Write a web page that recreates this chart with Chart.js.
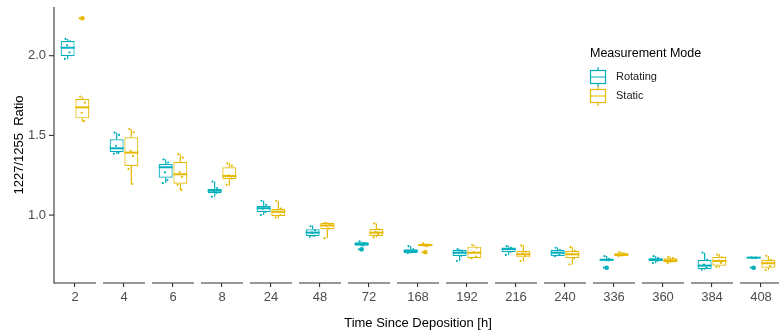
<!DOCTYPE html>
<html><head><meta charset="utf-8">
<script src="https://cdn.jsdelivr.net/npm/chart.js@4.4.1/dist/chart.umd.min.js"></script>
<style>
html,body{margin:0;padding:0;background:#fff;overflow:hidden;width:779px;height:331px}
#wrap{position:absolute;left:0;top:0;width:790px;height:331px}
</style>
</head><body><div id="wrap"><canvas id="c"></canvas></div>
<script>
// ---- data ----
const categories = ['2','4','6','8','24','48','72','168','192','216','240','336','360','384','408'];
const seriesNames = ['Rotating','Static'];
const legendTitle = 'Measurement Mode';
const xTitle = 'Time Since Deposition [h]';
const yTitle = '1227/1255  Ratio';
const yTickValues = [1.0, 1.5, 2.0];

// Rotating
const rotLo  = [1.977,1.385,1.201,1.115,1.000,0.865,0.805,0.760,0.712,0.750,0.742,0.710,0.698,0.655,0.730];
const rotQ1  = [1.998,1.394,1.235,1.137,1.018,0.869,0.808,0.762,0.743,0.767,0.743,0.714,0.712,0.660,0.731];
const rotMed = [2.050,1.419,1.300,1.153,1.043,0.890,0.819,0.775,0.764,0.787,0.764,0.720,0.720,0.683,0.733];
const rotQ3  = [2.092,1.476,1.321,1.164,1.059,0.911,0.829,0.785,0.781,0.796,0.781,0.725,0.729,0.718,0.735];
const rotHi  = [2.105,1.517,1.350,1.210,1.090,0.934,0.835,0.806,0.787,0.808,0.796,0.743,0.743,0.764,0.736];
const rotPts = [
  [2.105,2.090,2.065,2.020,1.980],
  [1.517,1.503,1.435,1.390,1.385],
  [1.350,1.330,1.268,1.220,1.200],
  [1.210,1.170,1.150,1.140,1.115],
  [1.090,1.065,1.040,1.020,1.000],
  [0.930,0.905,0.890,0.870,0.865],
  [0.835,0.825,0.815,0.810,0.785],
  [0.805,0.785,0.775,0.770,0.762],
  [0.787,0.775,0.765,0.745,0.712],
  [0.805,0.795,0.785,0.770,0.750],
  [0.795,0.780,0.765,0.750,0.742],
  [0.742,0.725,0.720,0.715,0.670],
  [0.742,0.730,0.720,0.713,0.700],
  [0.764,0.720,0.690,0.670,0.658],
  [0.735,0.733,0.732,0.730,0.670]
];
const rotOut = [[],[],[],[],[],[],[0.785],[],[],[],[],[0.670],[],[],[0.670]];

// Static
const staLo  = [1.586,1.195,1.158,1.184,0.980,0.855,0.859,0.802,0.729,0.712,0.690,0.741,0.698,0.672,0.655];
const staQ1  = [1.607,1.308,1.197,1.225,0.994,0.912,0.869,0.804,0.729,0.735,0.729,0.743,0.704,0.683,0.670];
const staMed = [1.676,1.392,1.256,1.245,1.021,0.935,0.890,0.812,0.764,0.754,0.754,0.752,0.716,0.712,0.698];
const staQ3  = [1.728,1.488,1.335,1.300,1.038,0.952,0.912,0.819,0.802,0.775,0.775,0.760,0.729,0.739,0.718];
const staHi  = [1.743,1.540,1.381,1.325,1.090,0.955,0.948,0.822,0.813,0.813,0.802,0.770,0.739,0.754,0.745];
const staPts = [
  [1.743,1.705,1.642,1.590,2.235],
  [1.540,1.519,1.402,1.371,1.289,1.195],
  [1.381,1.360,1.270,1.240,1.190,1.158],
  [1.325,1.310,1.250,1.230,1.190],
  [1.090,1.040,1.020,1.000,0.985],
  [0.952,0.945,0.930,0.915,0.855],
  [0.948,0.910,0.895,0.880,0.860],
  [0.822,0.815,0.810,0.805,0.767],
  [0.812,0.795,0.770,0.740,0.729],
  [0.810,0.770,0.760,0.745,0.712],
  [0.800,0.775,0.755,0.730,0.690],
  [0.768,0.760,0.752,0.748,0.743],
  [0.738,0.730,0.720,0.710,0.700],
  [0.752,0.735,0.715,0.700,0.675],
  [0.745,0.720,0.700,0.680,0.655]
];
const staOut = [[2.235],[],[],[],[],[],[],[0.767],[],[],[],[],[],[],[]];

// ---- styling ----
const colors = ['#00AFBB', '#E7B800'];
const jitterX = [-0.3, 0.35, -0.1, 0.25, -0.4, 0.15];
const FONT = '"Liberation Sans", Arial, sans-serif';
const AXIS = '#333333';

const stats = [
  {lo: rotLo, q1: rotQ1, med: rotMed, q3: rotQ3, hi: rotHi, pts: rotPts, out: rotOut},
  {lo: staLo, q1: staQ1, med: staMed, q3: staQ3, hi: staHi, pts: staPts, out: staOut}
];

const boxPlugin = {
  id: 'boxExtras',
  afterDatasetsDraw(chart) {
    const ctx = chart.ctx, ys = chart.scales.y;
    chart.data.datasets.forEach((ds, di) => {
      const meta = chart.getDatasetMeta(di);
      const st = stats[di];
      meta.data.forEach((bar, i) => {
        const x = bar.x, w = bar.width;
        ctx.save();
        ctx.strokeStyle = colors[di];
        ctx.fillStyle = colors[di];
        ctx.lineWidth = 1.2;
        ctx.beginPath();
        ctx.moveTo(x, ys.getPixelForValue(st.q3[i])); ctx.lineTo(x, ys.getPixelForValue(st.hi[i]));
        ctx.moveTo(x, ys.getPixelForValue(st.q1[i])); ctx.lineTo(x, ys.getPixelForValue(st.lo[i]));
        ctx.stroke();
        ctx.lineWidth = 2;
        const ym = ys.getPixelForValue(st.med[i]);
        ctx.beginPath(); ctx.moveTo(x - w / 2, ym); ctx.lineTo(x + w / 2, ym); ctx.stroke();
        st.pts[i].forEach((v, k) => {
          ctx.beginPath();
          ctx.arc(x + jitterX[k % jitterX.length] * w * 0.5, ys.getPixelForValue(v), 1.1, 0, Math.PI * 2);
          ctx.fill();
        });
        st.out[i].forEach(v => {
          ctx.beginPath();
          ctx.arc(x, ys.getPixelForValue(v), 2.3, 0, Math.PI * 2);
          ctx.fill();
        });
        ctx.restore();
      });
    });
  },
  afterDraw(chart) {
    const ctx = chart.ctx, xs = chart.scales.x, ys = chart.scales.y;
    const half = 21;
    ctx.save();
    ctx.strokeStyle = AXIS;
    ctx.lineWidth = 1.1;
    categories.forEach((c, i) => {
      const cx = xs.getPixelForValue(i);
      ctx.beginPath(); ctx.moveTo(cx - half, ys.bottom); ctx.lineTo(cx + half, ys.bottom); ctx.stroke();
    });
    const ax = xs.getPixelForValue(0) - half;
    ctx.beginPath(); ctx.moveTo(ax, ys.top); ctx.lineTo(ax, ys.bottom + 0.5); ctx.stroke();
    yTickValues.forEach(v => {
      const py = ys.getPixelForValue(v);
      ctx.beginPath(); ctx.moveTo(ax - 5, py); ctx.lineTo(ax, py); ctx.stroke();
    });
    ctx.fillStyle = '#000';
    ctx.textBaseline = 'middle';
    ctx.textAlign = 'left';
    ctx.font = '12.5px ' + FONT;
    ctx.fillText(legendTitle, 590, 54);
    const itemY = [77, 96];
    seriesNames.forEach((name, k) => {
      const cy = itemY[k];
      ctx.strokeStyle = colors[k];
      ctx.lineWidth = 1.2;
      ctx.strokeRect(590.5, cy - 6.5, 15, 13);
      ctx.beginPath();
      ctx.moveTo(590.5, cy); ctx.lineTo(605.5, cy);
      ctx.moveTo(598, cy - 10); ctx.lineTo(598, cy - 6.5);
      ctx.moveTo(598, cy + 6.5); ctx.lineTo(598, cy + 10);
      ctx.stroke();
      ctx.fillStyle = '#1a1a1a';
      ctx.font = '11px ' + FONT;
      ctx.fillText(name, 616, cy);
    });
    ctx.restore();
  }
};

const datasets = seriesNames.map((name, k) => ({
  label: name,
  data: categories.map((c, i) => [stats[k].q1[i], stats[k].q3[i]]),
  backgroundColor: '#ffffff',
  borderColor: colors[k],
  borderWidth: 1.2,
  borderSkipped: false,
  categoryPercentage: 0.6,
  barPercentage: 0.95
}));

new Chart(document.getElementById('c'), {
  type: 'bar',
  data: { labels: categories, datasets },
  options: {
    responsive: true,
    maintainAspectRatio: false,
    animation: false,
    layout: { padding: { top: 7, right: 4.5, left: 0, bottom: 0 } },
    plugins: { legend: { display: false }, tooltip: { enabled: false } },
    scales: {
      x: {
        type: 'category',
        offset: true,
        afterFit(s) { s.height = 48; s.paddingLeft = 0; s.paddingRight = 0; },
        grid: { display: true, drawOnChartArea: false, drawTicks: true, tickLength: 4, offset: false, color: AXIS, lineWidth: 1.1 },
        border: { display: false },
        ticks: { color: '#4d4d4d', font: { family: FONT, size: 13 }, padding: 3, maxRotation: 0, autoSkip: false },
        title: { display: true, text: xTitle, color: '#000', font: { family: FONT, size: 13 }, padding: { top: 0, bottom: 0 } }
      },
      y: {
        min: 0.574,
        max: 2.3055,
        afterFit(s) { s.width = 50.5; s.paddingTop = 0; s.paddingBottom = 0; },
        afterBuildTicks(s) { s.ticks = yTickValues.map(v => ({ value: v })); },
        grid: { display: false, drawTicks: false },
        border: { display: false },
        ticks: { color: '#4d4d4d', font: { family: FONT, size: 13 }, padding: 4.5, callback: v => Number(v).toFixed(1) },
        title: { display: true, text: yTitle, color: '#000', font: { family: FONT, size: 13 }, padding: { top: 12, bottom: 0 } }
      }
    }
  },
  plugins: [boxPlugin]
});
</script>
</body></html>
